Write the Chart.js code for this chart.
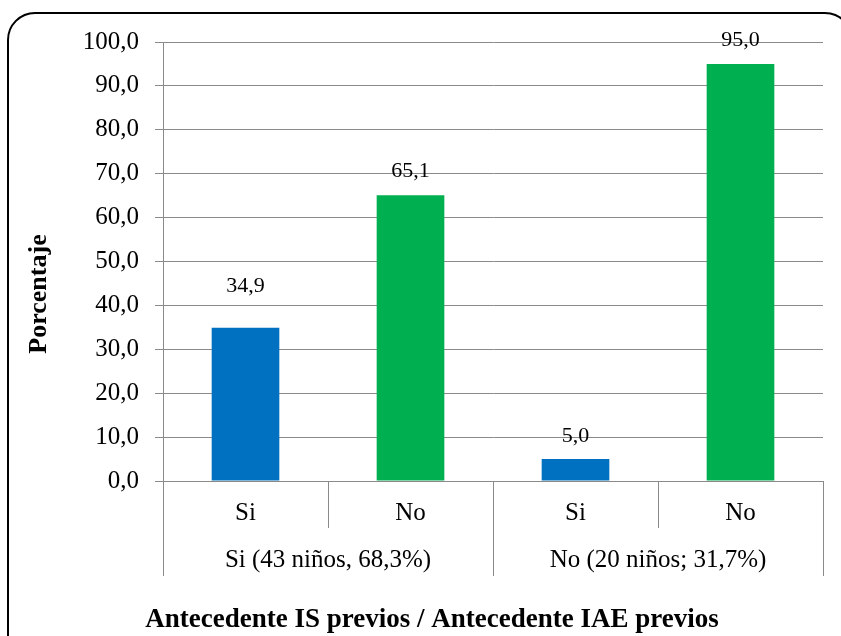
<!DOCTYPE html>
<html lang="es">
<head>
  <meta charset="UTF-8">
  <title>Antecedente IS / IAE previos</title>
  <script src="https://cdn.jsdelivr.net/npm/chart.js"></script>
  <style>
    html, body { margin: 0; padding: 0; background: #fff; overflow: hidden; }
    #marco {
      position: absolute; left: 7px; top: 12px; width: 846px; height: 700px;
      border: 2px solid #000; border-radius: 28px; box-sizing: border-box;
    }
    #wrap { position: absolute; left: 0; top: 0; width: 841px; height: 636px; }
  </style>
</head>
<body>
  <div id="marco"></div>
  <div id="wrap"><canvas id="grafico" width="841" height="636"></canvas></div>

  <script>
    // categorías: respuesta IAE dentro de cada grupo IS
    const categorias = ['Si', 'No', 'Si', 'No'];
    const grupos = ['Si (43 niños, 68,3%)', 'No (20 niños; 31,7%)'];
    const porcentajes = [34.9, 65.1, 5.0, 95.0];
    const colores = ['#0070C0', '#00B050', '#0070C0', '#00B050'];
    const marcasY = [0, 10, 20, 30, 40, 50, 60, 70, 80, 90, 100];

    const fuente = "'Liberation Serif', 'Times New Roman', serif";
    const gris = '#8a8a8a';
    const fmt = v => v.toFixed(1).replace('.', ',');

    // eje x de dos niveles, valores sobre las barras y títulos
    const etiquetas = {
      id: 'etiquetas',
      afterDraw(chart, args, opts) {
        const ctx = chart.ctx;
        const xs = chart.scales.x;
        const area = chart.chartArea;
        const px = i => xs.getPixelForValue(i);
        const paso = px(1) - px(0);
        const bordes = [];
        for (let i = 0; i <= categorias.length; i++) bordes.push(px(0) - paso / 2 + i * paso);

        ctx.save();
        ctx.strokeStyle = gris;
        ctx.lineWidth = 1;
        bordes.forEach((b, i) => {
          const x = Math.round(b) + 0.5;
          const fin = i % 2 === 0 ? area.bottom + 95 : area.bottom + 47;
          ctx.beginPath();
          ctx.moveTo(x, area.bottom);
          ctx.lineTo(x, fin);
          ctx.stroke();
        });

        ctx.fillStyle = '#000';
        ctx.textAlign = 'center';
        ctx.textBaseline = 'middle';
        ctx.font = '25px ' + fuente;
        categorias.forEach((c, i) => ctx.fillText(c, px(i), area.bottom + 32));
        grupos.forEach((g, j) => ctx.fillText(g, (px(2 * j) + px(2 * j + 1)) / 2, area.bottom + 79));

        // valores sobre las barras
        ctx.font = '22px ' + fuente;
        const meta = chart.getDatasetMeta(0);
        meta.data.forEach((bar, i) => {
          ctx.fillText(fmt(porcentajes[i]), bar.x, bar.y - opts.subir[i]);
        });

        ctx.font = 'bold 27px ' + fuente;
        ctx.fillText('Antecedente IS previos / Antecedente IAE previos', 432, 620);

        ctx.translate(39, 294);
        ctx.rotate(-Math.PI / 2);
        ctx.font = 'bold 26px ' + fuente;
        ctx.fillText('Porcentaje', 0, 0);
        ctx.restore();
      }
    };

    new Chart(document.getElementById('grafico'), {
      type: 'bar',
      data: {
        labels: categorias,
        datasets: [{
          data: porcentajes,
          backgroundColor: colores,
          barPercentage: 0.41,
          categoryPercentage: 1
        }]
      },
      options: {
        responsive: false,
        animation: false,
        layout: { padding: { left: 0, right: 18, top: 42, bottom: 155 } },
        plugins: {
          legend: { display: false },
          tooltip: { enabled: false },
          etiquetas: { subir: [42, 24, 23, 24] }
        },
        scales: {
          x: { display: false },
          y: {
            min: 0,
            max: 100,
            afterFit: s => { s.width = 163; },
            afterBuildTicks: s => { s.ticks = marcasY.map(v => ({ value: v })); },
            grid: { color: gris, lineWidth: 1, tickLength: 8 },
            border: { color: gris, width: 1 },
            ticks: {
              padding: 16,
              color: '#000',
              font: { family: fuente, size: 25 },
              callback: v => fmt(v)
            }
          }
        }
      },
      plugins: [etiquetas]
    });
  </script>
</body>
</html>
